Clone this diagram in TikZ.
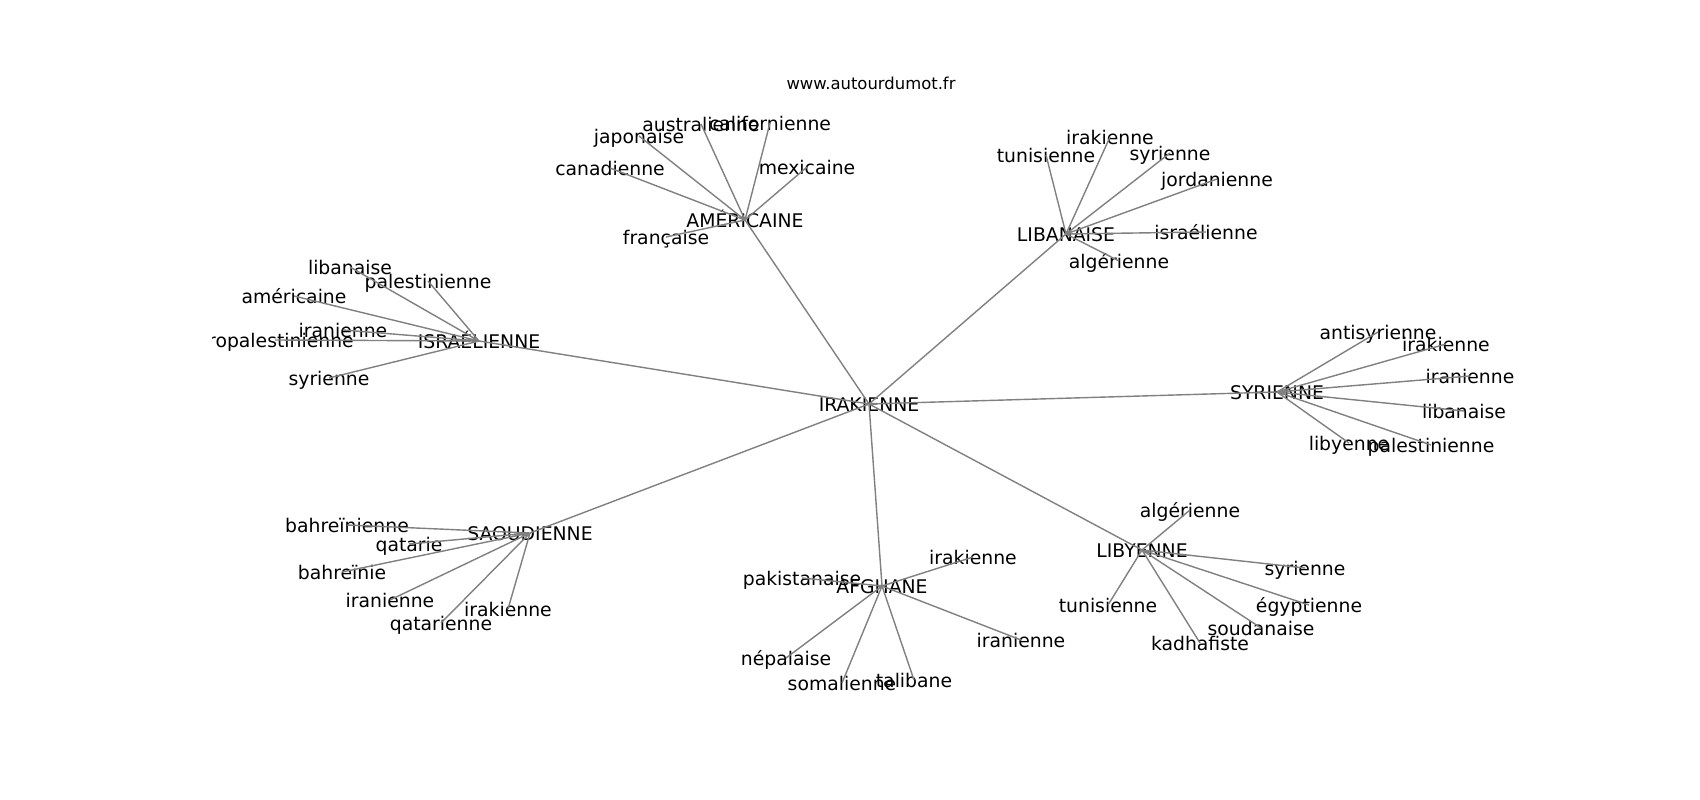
\documentclass[tikz,border=0pt]{standalone}
\usepackage{fontspec}
\setmainfont{DejaVu Sans}
\usepackage{xcolor}
\definecolor{edgegray}{HTML}{808080}

\tikzset{
	word/.style = {inner sep = 0pt, text height = 0.92em, text depth = 0.05em, font = \fontsize{10.7}{12}\selectfont},
	edge/.style = {edgegray, line width = 0.8pt}
}

\begin{document}
\begin{tikzpicture}[x = 0.02cm, y = -0.02cm]
	\useasboundingbox (0,0) rectangle (1700,800);
	
	\node[inner sep = 0pt, font = \fontsize{9.35}{11}\selectfont] (title) at (871,83) {www.autourdumot.fr};
	
	\begin{scope}
		\clip (212.5,96) rectangle (1530,712);
		
		\node[word] (iraq) at (869,404) {IRAKIENNE};
		\node[word] (usa) at (745,220) {AMÉRICAINE};
		\node[word] (leb) at (1066,234) {LIBANAISE};
		\node[word] (isr) at (479,341) {ISRAÉLIENNE};
		\node[word] (syr) at (1277,392) {SYRIENNE};
		\node[word] (sau) at (530,533) {SAOUDIENNE};
		\node[word] (afg) at (882,586) {AFGHANE};
		\node[word] (lby) at (1142,550) {LIBYENNE};
		
		\node[word] (usa-aus) at (701,124) {australienne};
		\node[word] (usa-cal) at (770,123) {californienne};
		\node[word] (usa-jap) at (639,136) {japonaise};
		\node[word] (usa-can) at (610,168) {canadienne};
		\node[word] (usa-mex) at (807,167) {mexicaine};
		\node[word] (usa-fra) at (666,237) {française};
		
		\node[word] (leb-irq) at (1110,137) {irakienne};
		\node[word] (leb-tun) at (1046,155) {tunisienne};
		\node[word] (leb-syr) at (1170,153) {syrienne};
		\node[word] (leb-jor) at (1217,179) {jordanienne};
		\node[word] (leb-isr) at (1206,232) {israélienne};
		\node[word] (leb-alg) at (1119,261) {algérienne};
		
		\node[word] (isr-lib) at (350,267) {libanaise};
		\node[word] (isr-pal) at (428,281) {palestinienne};
		\node[word] (isr-ame) at (294,296) {américaine};
		\node[word] (isr-ira) at (343,330) {iranienne};
		\node[word] (isr-pro) at (275,340) {propalestinienne};
		\node[word] (isr-syr) at (329,378) {syrienne};
		
		\node[word] (syr-ant) at (1378,332) {antisyrienne};
		\node[word] (syr-irq) at (1446,344) {irakienne};
		\node[word] (syr-ira) at (1470,376) {iranienne};
		\node[word] (syr-lib) at (1464,411) {libanaise};
		\node[word] (syr-lby) at (1349,443) {libyenne};
		\node[word] (syr-pal) at (1431,445) {palestinienne};
		
		\node[word] (sau-bhn) at (347,525) {bahreïnienne};
		\node[word] (sau-qat) at (409,544) {qatarie};
		\node[word] (sau-bhr) at (342,572) {bahreïnie};
		\node[word] (sau-ira) at (390,600) {iranienne};
		\node[word] (sau-qtr) at (441,623) {qatarienne};
		\node[word] (sau-irq) at (508,609) {irakienne};
		
		\node[word] (afg-irq) at (973,557) {irakienne};
		\node[word] (afg-pak) at (802,578) {pakistanaise};
		\node[word] (afg-nep) at (786,658) {népalaise};
		\node[word] (afg-som) at (842,683) {somalienne};
		\node[word] (afg-tal) at (914,680) {talibane};
		\node[word] (afg-ira) at (1021,640) {iranienne};
		
		\node[word] (lby-alg) at (1190,510) {algérienne};
		\node[word] (lby-syr) at (1305,568) {syrienne};
		\node[word] (lby-tun) at (1108,605) {tunisienne};
		\node[word] (lby-egy) at (1309,605) {égyptienne};
		\node[word] (lby-sou) at (1261,628) {soudanaise};
		\node[word] (lby-kad) at (1200,643) {kadhafiste};
	\end{scope}
	
	\draw[edge] (iraq.center) -- (usa.center) (iraq.center) -- (leb.center)
		(iraq.center) -- (isr.center) (iraq.center) -- (syr.center)
		(iraq.center) -- (sau.center) (iraq.center) -- (afg.center)
		(iraq.center) -- (lby.center);
	
	\draw[edge] (usa.center) -- (usa-aus.center) (usa.center) -- (usa-cal.center)
		(usa.center) -- (usa-jap.center) (usa.center) -- (usa-can.center)
		(usa.center) -- (usa-mex.center) (usa.center) -- (usa-fra.center);
	
	\draw[edge] (leb.center) -- (leb-irq.center) (leb.center) -- (leb-tun.center)
		(leb.center) -- (leb-syr.center) (leb.center) -- (leb-jor.center)
		(leb.center) -- (leb-isr.center) (leb.center) -- (leb-alg.center);
	
	\draw[edge] (isr.center) -- (isr-lib.center) (isr.center) -- (isr-pal.center)
		(isr.center) -- (isr-ame.center) (isr.center) -- (isr-ira.center)
		(isr.center) -- (isr-pro.center) (isr.center) -- (isr-syr.center);
	
	\draw[edge] (syr.center) -- (syr-ant.center) (syr.center) -- (syr-irq.center)
		(syr.center) -- (syr-ira.center) (syr.center) -- (syr-lib.center)
		(syr.center) -- (syr-lby.center) (syr.center) -- (syr-pal.center);
	
	\draw[edge] (sau.center) -- (sau-bhn.center) (sau.center) -- (sau-qat.center)
		(sau.center) -- (sau-bhr.center) (sau.center) -- (sau-ira.center)
		(sau.center) -- (sau-qtr.center) (sau.center) -- (sau-irq.center);
	
	\draw[edge] (afg.center) -- (afg-irq.center) (afg.center) -- (afg-pak.center)
		(afg.center) -- (afg-nep.center) (afg.center) -- (afg-som.center)
		(afg.center) -- (afg-tal.center) (afg.center) -- (afg-ira.center);
	
	\draw[edge] (lby.center) -- (lby-alg.center) (lby.center) -- (lby-syr.center)
		(lby.center) -- (lby-tun.center) (lby.center) -- (lby-egy.center)
		(lby.center) -- (lby-sou.center) (lby.center) -- (lby-kad.center);
	
\end{tikzpicture}
\end{document}
